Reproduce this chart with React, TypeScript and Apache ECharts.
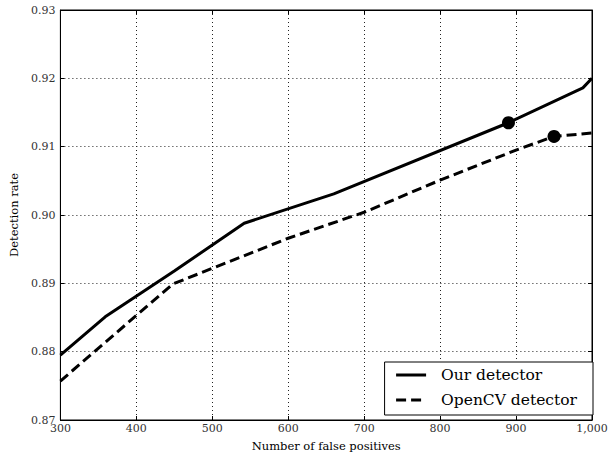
import React, { useEffect, useRef } from "react";
import * as echarts from "echarts";

const ourDetector: [number, number][] = [
  [300, 0.8795], [359, 0.8851], [450, 0.8918], [542, 0.8988], [660, 0.9031],
  [890, 0.9135], [988, 0.9186], [1000, 0.9200],
];
const openCvDetector: [number, number][] = [
  [300, 0.8757], [448, 0.8899], [600, 0.8966], [700, 0.9004], [800, 0.9051],
  [900, 0.9095], [950, 0.9115], [1000, 0.9120],
];
const ourMarker: [number, number][] = [[890, 0.9135]];
const openCvMarker: [number, number][] = [[950, 0.9115]];
const seriesNames = ["Our detector", "OpenCV detector"];
const xTitle = "Number of false positives";
const yTitle = "Detection rate";

const FONT = "'DejaVu Serif', 'Liberation Serif', serif";

export default function App() {
  const ref = useRef<HTMLDivElement>(null);
  useEffect(() => {
    if (!ref.current) return;
    const chart = echarts.init(ref.current, undefined, { renderer: "svg" });
    const grid = { show: true, left: 57, right: 22, top: 10, bottom: 35, borderColor: "#000", borderWidth: 1, backgroundColor: "#fff" };
    const splitLine = { show: true, lineStyle: { color: "#222", width: 1, type: [1, 3] as any } };
    chart.setOption({
      animation: false,
      backgroundColor: "#fff",
      grid,
      legend: {
        data: seriesNames.map((n) => ({ name: n, itemStyle: { opacity: 0 } })),
        orient: "vertical",
        right: 21,
        bottom: 42,
        backgroundColor: "#fff",
        borderColor: "#000",
        borderWidth: 1,
        borderRadius: 0,
        padding: [5, 16, 7, 10],
        itemWidth: 30,
        itemHeight: 14,
        itemGap: 9,
        lineStyle: { width: 3 },
        textStyle: { fontFamily: FONT, fontSize: 15.5, lineHeight: 14, color: "#000", padding: [0, 0, 0, 10] },
      },
      xAxis: [
        {
          type: "value", min: 300, max: 1000, interval: 100,
          name: xTitle, nameLocation: "middle", nameGap: 20,
          nameTextStyle: { fontFamily: FONT, fontSize: 11.5, color: "#000" },
          axisLine: { show: true, lineStyle: { color: "#000", width: 1 } },
          axisTick: { show: true, inside: true, length: 4, lineStyle: { color: "#000" } },
          axisLabel: { fontFamily: FONT, fontSize: 11, color: "#333", margin: 3 },
          splitLine,
        },
        {
          type: "value", min: 300, max: 1000, interval: 100, position: "top",
          axisLine: { show: true, lineStyle: { color: "#000", width: 1 } },
          axisTick: { show: true, inside: true, length: 4, lineStyle: { color: "#000" } },
          axisLabel: { show: false }, splitLine: { show: false },
        },
      ],
      yAxis: [
        {
          type: "value", min: 0.87, max: 0.93, interval: 0.01,
          name: yTitle, nameLocation: "middle", nameGap: 36,
          nameTextStyle: { fontFamily: FONT, fontSize: 11.5, color: "#000" },
          axisLine: { show: true, lineStyle: { color: "#000", width: 1 } },
          axisTick: { show: true, inside: true, length: 4, lineStyle: { color: "#000" } },
          axisLabel: { fontFamily: FONT, fontSize: 11, color: "#333", margin: 5, formatter: (v: number) => v.toFixed(2) },
          splitLine,
        },
        {
          type: "value", min: 0.87, max: 0.93, interval: 0.01, position: "right",
          axisLine: { show: true, lineStyle: { color: "#000", width: 1 } },
          axisTick: { show: true, inside: true, length: 4, lineStyle: { color: "#000" } },
          axisLabel: { show: false }, splitLine: { show: false },
        },
      ],
      series: [
        {
          name: seriesNames[0], type: "line", data: ourDetector, symbol: "none",
          lineStyle: { color: "#000", width: 3 }, itemStyle: { color: "#000" },
        },
        {
          name: seriesNames[1], type: "line", data: openCvDetector, symbol: "none",
          lineStyle: { color: "#000", width: 3, type: [10, 5] as any }, itemStyle: { color: "#000" },
        },
        {
          type: "scatter", data: ourMarker, symbol: "circle", symbolSize: 13,
          itemStyle: { color: "#000", opacity: 1 }, z: 5,
        },
        {
          type: "scatter", data: openCvMarker, symbol: "circle", symbolSize: 13,
          itemStyle: { color: "#000", opacity: 1 }, z: 5,
        },
      ],
    });
    return () => chart.dispose();
  }, []);
  return <div ref={ref} style={{ position: "fixed", left: 0, top: 0, width: 614, height: 457 }} />;
}
